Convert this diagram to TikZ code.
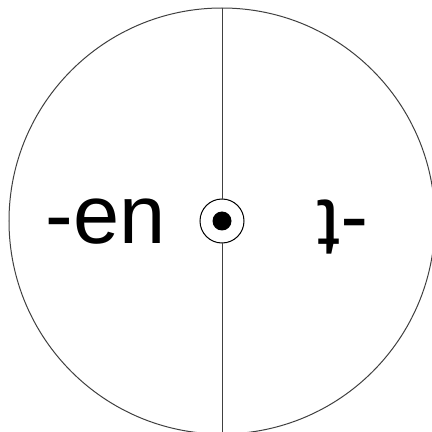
\documentclass[tikz,border=0pt]{standalone}
\usepackage{fontspec}
\setmainfont{Liberation Sans}
\begin{document}
\begin{tikzpicture}[x=1bp,y=1bp,
  thinline/.style={line width=1.0bp, draw=black!75},
  bigtext/.style={inner sep=0pt, outer sep=0pt, font=\fontsize{83bp}{90bp}\selectfont}]
\useasboundingbox (0,0) rectangle (432,432);
\clip (0,0) rectangle (432,432);
\node[circle, thinline, minimum size=426bp, inner sep=0pt, outer sep=0pt] (big) at (222,211) {};
\node[circle, draw=black, line width=1.0bp, minimum size=44bp, inner sep=0pt, outer sep=0pt] (ring) at (222,211) {};
\node[circle, fill=black, minimum size=19bp, inner sep=0pt] (dot) at (ring.center) {};
\draw[thinline] (big.north) -- (ring.north);
\draw[thinline] (ring.south) -- (big.south);
\node[bigtext, anchor=base west] (en) at (45.5,189) {-en};
\node[bigtext, anchor=base west, rotate=180] (t) at (368.5,232) {-t};
\end{tikzpicture}
\end{document}
